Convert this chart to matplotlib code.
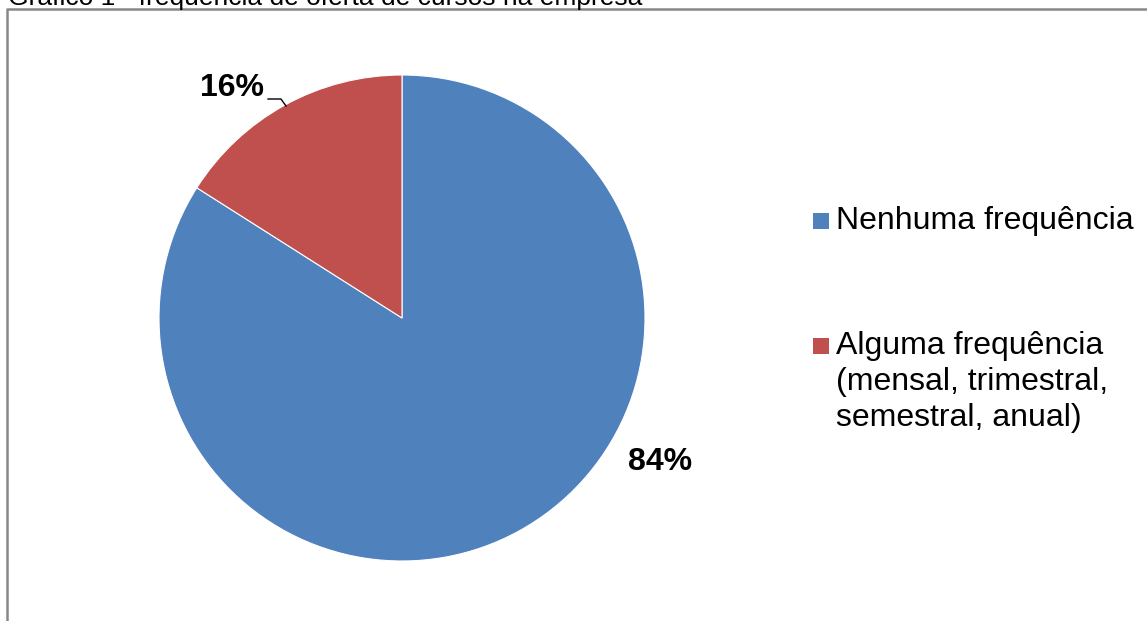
import matplotlib
matplotlib.use("Agg")
import matplotlib.pyplot as plt
from matplotlib.patches import Rectangle
from matplotlib.lines import Line2D

# data
categorias = ["Nenhuma frequência",
              "Alguma frequência\n(mensal, trimestral,\nsemestral, anual)"]
valores = [84, 16]
cores = ["#4F81BD", "#C0504D"]
titulo = "Gráfico 1 - frequência de oferta de cursos na empresa"

plt.rcParams['font.family'] = ['Liberation Sans', 'DejaVu Sans']

W, H = 1147, 621
fig = plt.figure(figsize=(W / 100, H / 100), dpi=100)
fig.patch.set_facecolor("white")


def px(x, y):
    # pixel coords (top-left origin) -> figure fraction
    return x / W, 1 - y / H


# pie axes: center (402, 318), radius 243 px
cx, cy, r = 402, 318, 243
ax = fig.add_axes([(cx - r) / W, (H - cy - r) / H, 2 * r / W, 2 * r / H])
wedges, _ = ax.pie(valores, colors=cores, startangle=90, counterclock=False,
                   radius=1, wedgeprops=dict(edgecolor="white", linewidth=0.8))
ax.set_aspect("auto")
ax.set_xlim(-1, 1)
ax.set_ylim(-1, 1)
ax.axis("off")

# percentage labels
ax.text(1.062, -0.593, f"{valores[0]}%", fontsize=23, fontweight="bold",
        ha="center", va="center", clip_on=False)
ax.text(-0.70, 0.947, f"{valores[1]}%", fontsize=23, fontweight="bold",
        ha="center", va="center", clip_on=False)
# leader line for the small slice
lx = [(268 - cx) / r, (281 - cx) / r, (286 - cx) / r]
ly = [(cy - 99) / r, (cy - 99) / r, (cy - 106) / r]
ax.plot(lx, ly, color="black", linewidth=1, clip_on=False)

# legend drawn by hand
leg_y = [221, 346]
for cat, cor, yy in zip(categorias, cores, leg_y):
    x0, y0 = px(813, yy + 8)
    fig.patches.append(Rectangle((x0, y0), 16 / W, 16 / H, transform=fig.transFigure,
                                 facecolor=cor, edgecolor="none"))
    for i, line in enumerate(cat.split("\n")):
        fx, fy = px(836, yy + 36 * i)
        fig.text(fx, fy, line, fontsize=23, ha="left", va="center")

# chart border (partly outside the image)
bx, by = px(7, 9)
fig.lines.append(Line2D([bx, bx, 1.01], [-0.01, by, by], transform=fig.transFigure,
                        color="#888888", linewidth=1.8))

# title, cut by the top edge
tx, ty = px(8, 5)
fig.text(tx, ty, titulo, fontsize=19, ha="left", va="baseline")

fig.savefig("out.png", dpi=100)
